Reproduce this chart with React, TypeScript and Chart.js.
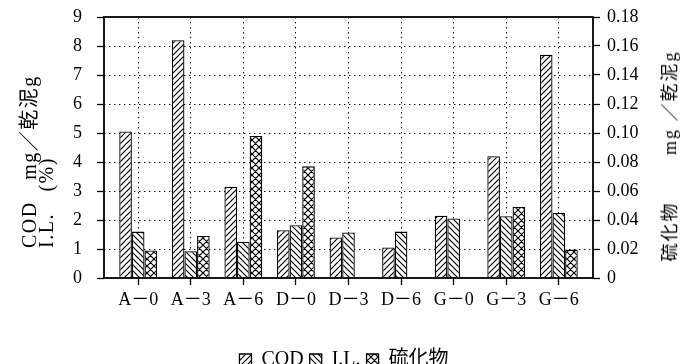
import React, { useEffect, useRef } from "react";
import { Chart, registerables } from "chart.js";

Chart.register(...registerables);

// Sample groups along the x axis
const CATEGORIES = ["A－0", "A－3", "A－6", "D－0", "D－3", "D－6", "G－0", "G－3", "G－6"];
// COD (mg/乾泥g) and I.L. (%) on the left axis
const COD = [5.05, 8.2, 3.15, 1.65, 1.4, 1.05, 2.15, 4.2, 7.7];
const IL = [1.6, 0.92, 1.25, 1.82, 1.57, 1.6, 2.05, 2.13, 2.24];
// 硫化物 (mg/乾泥g) on the right axis; no value for D-3, D-6, G-0
const SULFIDE: (number | null)[] = [0.019, 0.029, 0.098, 0.077, null, null, null, 0.049, 0.0196];

const LEFT_TICKS = [0, 1, 2, 3, 4, 5, 6, 7, 8, 9];
const RIGHT_TICKS = [0, 0.02, 0.04, 0.06, 0.08, 0.1, 0.12, 0.14, 0.16, 0.18];

const FONT = '"Liberation Serif", "Noto Sans CJK JP", serif';

type HatchKind = "forward" | "backward" | "cross";

function makeHatch(kind: HatchKind): CanvasPattern {
  const s = kind === "cross" ? 7 : 6;
  const c = document.createElement("canvas");
  c.width = s;
  c.height = s;
  const g = c.getContext("2d")!;
  g.fillStyle = "#fff";
  g.fillRect(0, 0, s, s);
  g.strokeStyle = "#000";
  g.lineWidth = 1.2;
  g.beginPath();
  if (kind === "forward" || kind === "cross") {
    g.moveTo(-1, s + 1);
    g.lineTo(s + 1, -1);
    g.moveTo(-1, 1);
    g.lineTo(1, -1);
    g.moveTo(s - 1, s + 1);
    g.lineTo(s + 1, s - 1);
  }
  if (kind === "backward" || kind === "cross") {
    g.moveTo(-1, -1);
    g.lineTo(s + 1, s + 1);
    g.moveTo(s - 1, -1);
    g.lineTo(s + 1, 1);
    g.moveTo(-1, s - 1);
    g.lineTo(1, s + 1);
  }
  g.stroke();
  return g.createPattern(c, "repeat")!;
}

// Closed box around the plotting area
const framePlugin = {
  id: "frame",
  afterDatasetsDraw(chart: any) {
    const { ctx, chartArea: a } = chart;
    ctx.save();
    ctx.strokeStyle = "#000";
    ctx.lineWidth = 1.8;
    ctx.strokeRect(a.left, a.top, a.right - a.left, a.bottom - a.top);
    ctx.restore();
  },
};

const DOTS = [1.4, 3.6];

export default function App() {
  const ref = useRef<HTMLCanvasElement>(null);

  useEffect(() => {
    const canvas = ref.current;
    if (!canvas) return;
    const tickFont = { family: FONT, size: 18 };
    const toPoints = (arr: (number | null)[]) => arr.map((y, i) => ({ x: i, y }));

    const chart = new Chart(canvas, {
      type: "bar",
      data: {
        datasets: [
          {
            label: "COD",
            data: toPoints(COD),
            yAxisID: "y",
            backgroundColor: makeHatch("forward"),
            borderColor: "#000",
            borderWidth: 1.3,
          },
          {
            label: "I.L.",
            data: toPoints(IL),
            yAxisID: "y",
            backgroundColor: makeHatch("backward"),
            borderColor: "#000",
            borderWidth: 1.3,
          },
          {
            label: "硫化物",
            data: toPoints(SULFIDE),
            yAxisID: "y1",
            backgroundColor: makeHatch("cross"),
            borderColor: "#000",
            borderWidth: 1.3,
          },
        ] as any,
      },
      options: {
        animation: false,
        responsive: false,
        layout: { padding: { top: 17, left: 0, right: 0, bottom: 0 } },
        datasets: { bar: { categoryPercentage: 0.72, barPercentage: 1.0 } },
        plugins: {
          tooltip: { enabled: false },
          legend: {
            position: "bottom",
            labels: {
              boxWidth: 12,
              boxHeight: 12,
              padding: 6,
              color: "#000",
              font: { family: FONT, size: 20 },
            },
          },
        },
        scales: {
          x: {
            type: "linear",
            min: -0.65,
            max: 8.65,
            offset: false,
            afterBuildTicks: (s: any) => {
              s.ticks = CATEGORIES.map((_, i) => ({ value: i }));
            },
            afterFit: (s: any) => {
              s.height = 66;
            },
            ticks: {
              autoSkip: false,
              maxRotation: 0,
              padding: 4,
              color: "#000",
              font: tickFont,
              callback: (v: any) => CATEGORIES[v] ?? "",
            },
            grid: {
              offset: false,
              color: "#000",
              lineWidth: 1,
              tickLength: 7,
              tickColor: "#000",
              tickWidth: 1.3,
              tickBorderDash: [],
            },
            border: { display: false, dash: DOTS },
          },
          y: {
            type: "linear",
            position: "left",
            min: 0,
            max: 9,
            afterBuildTicks: (s: any) => {
              s.ticks = LEFT_TICKS.map((v) => ({ value: v }));
            },
            afterFit: (s: any) => {
              s.width = 104;
              s.paddingTop = 0;
              s.paddingBottom = 0;
            },
            ticks: { padding: 15, color: "#000", font: tickFont },
            grid: {
              color: (c: any) =>
                c.tick && (c.tick.value === 0 || c.tick.value === 9) ? "rgba(0,0,0,0)" : "#000",
              lineWidth: 1,
              tickLength: 7,
              tickColor: "#000",
              tickWidth: 1.3,
              tickBorderDash: [],
            },
            border: { display: false, dash: DOTS },
          },
          y1: {
            type: "linear",
            position: "right",
            min: 0,
            max: 0.18,
            afterBuildTicks: (s: any) => {
              s.ticks = RIGHT_TICKS.map((v) => ({ value: v }));
            },
            afterFit: (s: any) => {
              s.width = 95;
              s.paddingTop = 0;
              s.paddingBottom = 0;
            },
            ticks: {
              padding: 7,
              color: "#000",
              font: tickFont,
              callback: (v: any) => (v === 0 ? "0" : Number(v).toFixed(2)),
            },
            grid: {
              drawOnChartArea: false,
              tickLength: 7,
              tickColor: "#000",
              tickWidth: 1.3,
            },
            border: { display: false },
          },
        },
      } as any,
      plugins: [framePlugin],
    });

    return () => chart.destroy();
  }, []);

  return (
    <div
      style={{
        position: "fixed",
        left: 0,
        top: 0,
        width: 688,
        height: 364,
        overflow: "hidden",
        background: "#fff",
        fontFamily: FONT,
        color: "#000",
      }}
    >
      <canvas ref={ref} width={688} height={380} style={{ display: "block" }} />
      <div
        style={{
          position: "absolute",
          left: 21,
          top: 248,
          transformOrigin: "0 0",
          transform: "rotate(-90deg)",
          fontSize: 20,
          lineHeight: "17px",
          letterSpacing: "1.5px",
          whiteSpace: "pre",
          textAlign: "left",
        }}
      >
        {"COD　mg／乾泥g\nI.L.　(%)"}
      </div>
      <div
        style={{
          position: "absolute",
          left: 670,
          top: 156,
          transform: "translate(-50%, -50%) rotate(-90deg)",
          fontSize: 18,
          lineHeight: "18px",
          letterSpacing: "2px",
          whiteSpace: "pre",
        }}
      >
        {"硫化物　　 mg ／乾泥g"}
      </div>
    </div>
  );
}
